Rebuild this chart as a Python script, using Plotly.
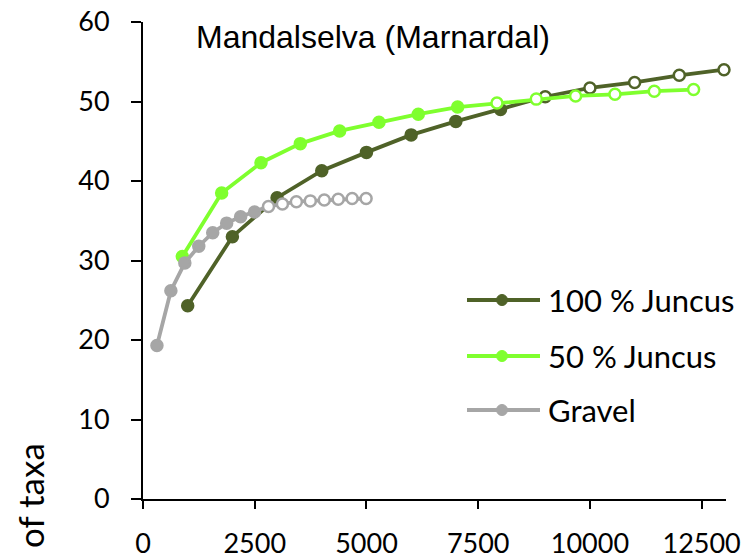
import plotly.graph_objects as go

# ---------------- data ----------------
series_names = ["100 % Juncus", "50 % Juncus", "Gravel"]

j100_x = [1000, 2000, 3000, 4000, 5000, 6000, 7000, 8000, 9000, 10000, 11000, 12000, 13000]
j100_y = [24.3, 33.0, 37.9, 41.3, 43.6, 45.8, 47.5, 49.0, 50.6, 51.7, 52.4, 53.3, 54.0]

j50_x = [880, 1760, 2640, 3520, 4400, 5280, 6160, 7040, 7920, 8800, 9680, 10560, 11440, 12320]
j50_y = [30.5, 38.5, 42.3, 44.7, 46.3, 47.4, 48.4, 49.3, 49.8, 50.3, 50.7, 50.9, 51.3, 51.5]

gravel_x = [312, 624, 936, 1248, 1560, 1872, 2184, 2496, 2808, 3120, 3432, 3744, 4056, 4368, 4680, 4992]
gravel_y = [19.3, 26.2, 29.7, 31.8, 33.5, 34.7, 35.5, 36.1, 36.8, 37.1, 37.4, 37.5, 37.6, 37.7, 37.8, 37.8]

x_ticks = [0, 2500, 5000, 7500, 10000, 12500]
y_ticks = [0, 10, 20, 30, 40, 50, 60]

title_text = "Mandalselva (Marnardal)"
y_title_text = "of taxa"

# ---------------- style ----------------
colors = ["#4F6228", "#7FFF2E", "#A6A6A6"]
filled_counts = [8, 8, 8]   # points drawn filled; the rest are hollow
TICKFONT = dict(family="Lato", size=27, color="#000000")

W, H = 751, 560
ML, MR, MT, MB = 143, 25, 22, 61
PW, PH = W - ML - MR, H - MT - MB


def px_to_paper_x(px):
    return (px - ML) / PW


def px_to_paper_y(py):
    return (H - MB - py) / PH


fig = go.Figure()

data = [(j100_x, j100_y), (j50_x, j50_y), (gravel_x, gravel_y)]
for (xs, ys), name, col, nf in zip(data, series_names, colors, filled_counts):
    fills = [col if i < nf else "#FFFFFF" for i in range(len(xs))]
    fig.add_trace(go.Scatter(
        x=xs, y=ys, name=name, mode="lines+markers",
        line=dict(color=col, width=3.8),
        marker=dict(size=11, color=fills, line=dict(color=col, width=2.5)),
        showlegend=False,
        cliponaxis=False,
    ))

# manual legend (long line sample with a dot in the middle)
legend_rows_py = [300, 356, 410]
for name, col, py in zip(series_names, colors, legend_rows_py):
    yp = px_to_paper_y(py)
    fig.add_shape(type="line", xref="paper", yref="paper",
                  x0=px_to_paper_x(467), x1=px_to_paper_x(540), y0=yp, y1=yp,
                  line=dict(color=col, width=3.8))
    r = 5.5
    fig.add_shape(type="circle", xref="paper", yref="paper",
                  x0=px_to_paper_x(502 - r), x1=px_to_paper_x(502 + r),
                  y0=px_to_paper_y(py + r), y1=px_to_paper_y(py - r),
                  fillcolor=col, line=dict(color=col, width=1))
    fig.add_annotation(text=name, xref="paper", yref="paper",
                       x=px_to_paper_x(546), y=yp, xanchor="left", yanchor="middle",
                       showarrow=False, font=dict(family="Lato", size=31, color="#000000"))

fig.add_annotation(text=title_text, xref="paper", yref="paper",
                   x=px_to_paper_x(194), y=px_to_paper_y(37), xanchor="left", yanchor="middle",
                   showarrow=False, font=dict(family="Liberation Sans", size=32, color="#000000"))

fig.add_annotation(text=y_title_text, xref="paper", yref="paper",
                   x=px_to_paper_x(30), y=px_to_paper_y(496), xanchor="center", yanchor="middle",
                   textangle=-90, showarrow=False,
                   font=dict(family="Lato", size=35, color="#000000"))

fig.update_layout(
    width=W, height=H,
    margin=dict(l=ML, r=MR, t=MT, b=MB, pad=0, autoexpand=False),
    paper_bgcolor="#FFFFFF", plot_bgcolor="#FFFFFF",
    showlegend=False,
    xaxis=dict(range=[0, 13045], tickvals=x_ticks, ticktext=[str(v) for v in x_ticks],
               showline=True, linecolor="#000000", linewidth=2,
               ticks="outside", ticklen=8, tickwidth=2, tickcolor="#000000",
               ticklabelstandoff=12, automargin=False,
               showgrid=False, zeroline=False, tickfont=TICKFONT, fixedrange=True),
    yaxis=dict(range=[0, 60], tickvals=y_ticks, ticktext=[str(v) for v in y_ticks],
               showline=True, linecolor="#000000", linewidth=2,
               ticks="outside", ticklen=10, tickwidth=2, tickcolor="#000000",
               ticklabelstandoff=16, automargin=False,
               showgrid=False, zeroline=False, tickfont=TICKFONT, fixedrange=True),
)

fig.write_html("out.html", config={"displayModeBar": False})
